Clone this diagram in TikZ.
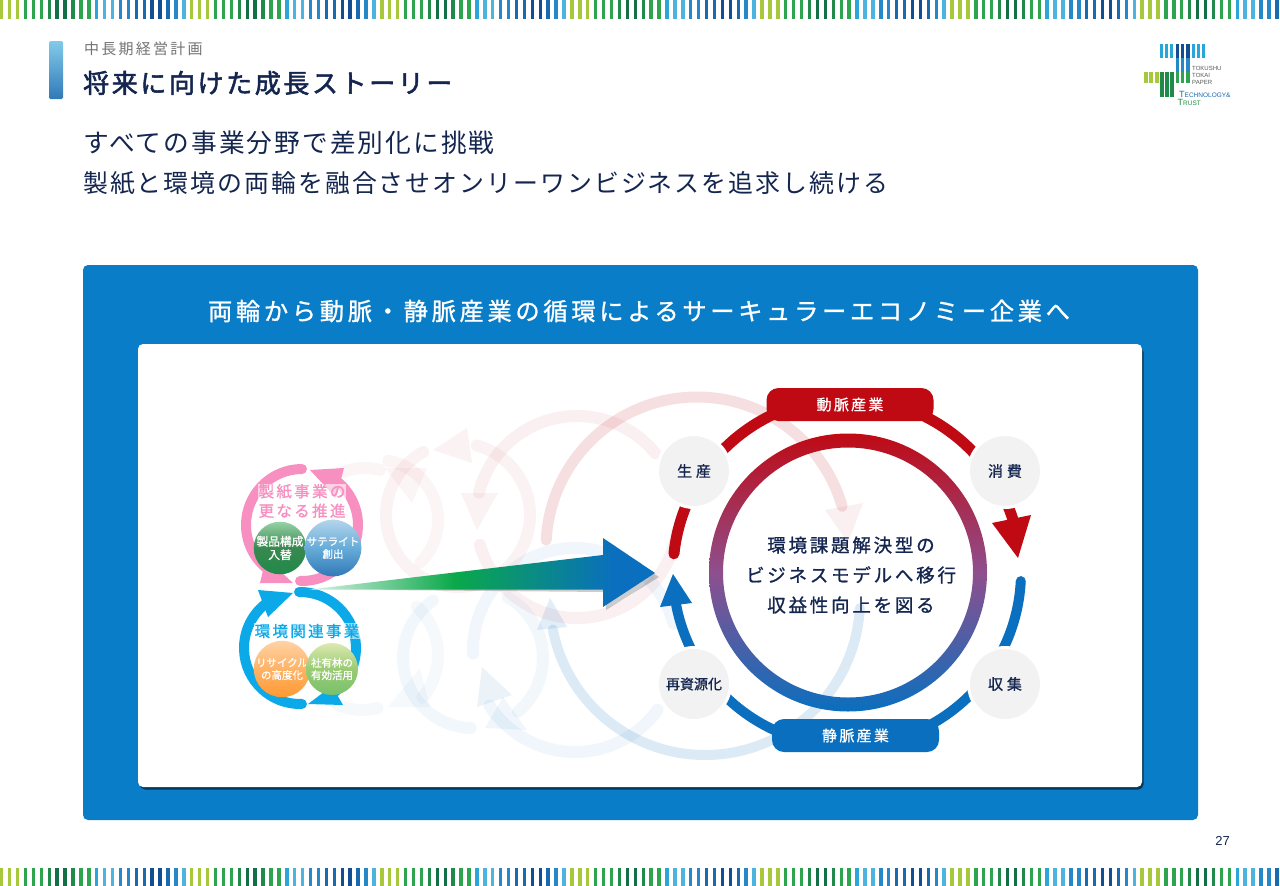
\documentclass[tikz,border=0pt]{standalone}
\usepackage{fontspec}
\setmainfont{Noto Sans CJK JP}
\newfontfamily\jpa[LetterSpace=8]{Noto Sans CJK JP}
\newfontfamily\jpb[LetterSpace=15]{Noto Sans CJK JP}
\newfontfamily\jpt[LetterSpace=10,FakeBold=2]{Noto Sans CJK JP}
\newfontfamily\jpm[LetterSpace=15,FakeBold=1]{Noto Sans CJK JP}
\newfontfamily\jpc[LetterSpace=26,FakeBold=1]{Noto Sans CJK JP}
\newfontfamily\jpk[FakeBold=1]{Noto Sans CJK JP}
\newfontfamily\latn{Liberation Sans}
\usepackage{tikz}
\usetikzlibrary{positioning}

\definecolor{stlime}{HTML}{A8C83C}
\definecolor{stgrn}{HTML}{2EA44F}
\definecolor{stgrd}{HTML}{1F8A4A}
\definecolor{stdark}{HTML}{136F45}
\definecolor{stcy}{HTML}{2AA7D8}
\definecolor{stlb}{HTML}{4DB4E0}
\definecolor{stmid}{HTML}{2688C8}
\definecolor{stblu}{HTML}{1A6AB0}
\definecolor{stnav}{HTML}{134E93}
\definecolor{navy}{HTML}{14264F}
\definecolor{panelblue}{HTML}{0A7DC9}
\definecolor{mainred}{HTML}{BF0A14}
\definecolor{mainblue}{HTML}{0A6FBE}
\definecolor{logopink}{HTML}{F78FC0}
\definecolor{logoblue}{HTML}{0BA9E8}
\definecolor{arrowgreen}{HTML}{0AA84A}
\definecolor{ringpurple}{HTML}{8E4F8E}
\pgfdeclarehorizontalshading{arrowfade}{100bp}{color(0bp)=(white); color(25bp)=(white!85!arrowgreen); color(46bp)=(arrowgreen); color(69bp)=(mainblue); color(100bp)=(mainblue)}

\tikzset{
  ghostred/.style={draw=mainred,line width=12,line cap=round,opacity=.06},
  ghostblue/.style={draw=mainblue,line width=12,line cap=round,opacity=.06},
  bigred/.style={draw=mainred,line width=11,line cap=round,opacity=.13},
  bigblue/.style={draw=mainblue,line width=10,line cap=round,opacity=.14},
  stage/.style={circle,minimum size=73,inner sep=0,fill=black!5,draw=white,line width=3,text=navy,font=\jpc\fontsize{15}{15}\selectfont},
  pill/.style={rounded corners=12,minimum width=167,minimum height=33,text=white,font=\jpm\fontsize{15}{15}\selectfont},
  ball/.style={circle,minimum size=52,inner sep=0,align=center,text=white,font=\jpk\fontsize{10.5}{12.5}\selectfont},
  logotext/.style={fill=white,fill opacity=.6,text opacity=1,inner sep=.5,align=center,font=\jpm\fontsize{15.5}{19.5}\selectfont}
}
\newcommand{\ringarc}[5]{\draw[#1] ([shift={(#4:#3)}]#2) arc[start angle=#4,end angle=#5,radius=#3];}

\begin{document}
\begin{tikzpicture}[x=1pt,y=1pt]
\useasboundingbox (0,0) rectangle (1280,-886);
\fill[white] (0,0) rectangle (1280,-886);

% stripes
\foreach \r in {0,...,6}{
  \foreach \c [count=\n from 0] in {stlime,stlime,stlime,stgrn,stgrn,stgrn,stgrd,stdark,stdark,stgrd,stgrn,stgrn,stcy,stlb,stlb,stmid,stmid,stblu,stblu,stnav,stnav,stblu,stmid,stlb}{
    \fill[\c] ({(\n+24*\r)*7.92},0) rectangle ++(3.4,-19);
    \fill[\c] ({(\n+24*\r)*7.92},-868) rectangle ++(3.4,-18);
  }
}

% header
\shade[rounded corners=1.5,top color=stlb!70,bottom color=stblu!90] (49,-41) rectangle (63,-99);
\node[anchor=west,inner sep=0,text=black!55,font=\jpb\fontsize{15}{15}\selectfont] (kicker) at (84,-49) {中長期経営計画};
\node[anchor=west,inner sep=0,text=navy,font=\jpt\fontsize{26}{26}\selectfont] (title) at (83,-83) {将来に向けた成長ストーリー};
\node[anchor=west,inner sep=0,text=navy,font=\jpa\fontsize{25.7}{25.7}\selectfont] (leadone) at (83,-143) {すべての事業分野で差別化に挑戦};
\node[anchor=west,inner sep=0,text=navy,font=\jpa\fontsize{24.9}{24.9}\selectfont] (leadtwo) at (83,-183) {製紙と環境の両輪を融合させオンリーワンビジネスを追求し続ける};

% company mark
\foreach \x in {1160,1165,1170,1192,1197,1201.5}{\fill[stcy] (\x,-44) rectangle ++(3.2,-14);}
\foreach \x in {1175.5,1180.5,1186}{
  \fill[stnav] (\x,-44) rectangle ++(3.8,-14);
  \fill[stmid] (\x,-58) rectangle ++(3.8,-14);
  \fill[stgrn] (\x,-72) rectangle ++(3.8,-11);
}
\foreach \x in {1144,1149,1155}{\fill[stlime] (\x,-72) rectangle ++(3.6,-11);}
\foreach \x in {1160,1165,1170}{\fill[stgrd] (\x,-72) rectangle ++(3.6,-25);}
\node[anchor=west,inner sep=0,align=left,text=black!65,font=\latn\fontsize{6}{7}\selectfont] (brand) at (1192,-75) {TOKUSHU\\TOKAI\\PAPER};
\node[anchor=west,inner sep=0,text=stblu,font=\latn\fontsize{6.5}{6}\selectfont] (techword) at (1179,-94) {{\fontsize{9}{8}\selectfont T}ECHNOLOGY\&};
\node[anchor=west,inner sep=0,text=stgrd,font=\latn\fontsize{6.5}{6}\selectfont] (trustword) at (1177.5,-102) {{\fontsize{9}{8}\selectfont T}RUST};

% panels
\fill[panelblue,rounded corners=5] (83,-265) rectangle (1198,-820);
\fill[black!55!panelblue,rounded corners=5] (140,-347) rectangle (1143.5,-789.5);
\fill[white,rounded corners=5] (138,-344) rectangle (1142,-787);
\node[text=white,inner sep=0,font=\jpm\fontsize{24.3}{24.3}\selectfont] (heading) at (639,-311) {両輪から動脈・静脈産業の循環によるサーキュラーエコノミー企業へ};

% ghost rings
\coordinate (ringa) at (697,-548);
\coordinate (ringb) at (577,-517);
\coordinate (ringc) at (458,-515);
\coordinate (ringd) at (378,-520);
\coordinate (ringe) at (365,-530);
\coordinate (ringf) at (705,-600);
\coordinate (ringg) at (575,-650);
\coordinate (ringh) at (473,-658);
\coordinate (ringi) at (372,-655);
\coordinate (ringj) at (362,-650);

\ringarc{bigred}{ringa}{151}{177}{16}
\fill[mainred,opacity=.06] (825,-510) -- (863,-503) -- (848,-543) -- cycle;
\ringarc{ghostred}{ringb}{101}{39}{166}
\fill[mainred,opacity=.05] (461,-493) -- (498,-493) -- (477,-530) -- cycle;
\ringarc{ghostred}{ringb}{101}{196}{352}
\ringarc{ghostred,opacity=.05}{ringc}{72}{75}{-100}
\fill[mainred,opacity=.05] (433,-450) -- (467,-428) -- (472,-463) -- cycle;
\ringarc{ghostred,opacity=.05}{ringc}{72}{119}{250}
\ringarc{ghostred,opacity=.04}{ringd}{60}{80}{-45}
\fill[mainred,opacity=.04] (385,-468) -- (427,-468) -- (412,-503) -- cycle;
\ringarc{ghostred,opacity=.04}{ringe}{62}{76}{114}

\ringarc{bigblue}{ringf}{155}{-3}{-169}
\fill[mainblue,opacity=.12] (537,-630) -- (567,-627) -- (550,-598) -- cycle;
\ringarc{ghostblue}{ringg}{102}{182}{15}
\ringarc{ghostblue}{ringg}{102}{-36}{-147}
\fill[mainblue,opacity=.08] (482,-667) -- (477,-707) -- (512,-695) -- cycle;
\ringarc{ghostblue,opacity=.05}{ringh}{70}{268}{125}
\ringarc{ghostblue,opacity=.05}{ringh}{70}{60}{-50}
\fill[mainblue,opacity=.06] (485,-728) -- (527,-730) -- (503,-697) -- cycle;
\ringarc{ghostblue,opacity=.04}{ringi}{66}{47}{-40}
\fill[mainblue,opacity=.04] (388,-707) -- (430,-707) -- (420,-668) -- cycle;
\ringarc{ghostblue,opacity=.04}{ringj}{60}{-115}{-75}

% business rings
\coordinate (paperc) at (302,-525);
\coordinate (envc) at (300,-648);
\ringarc{draw=logopink,line width=10,line cap=round}{paperc}{56}{90}{238}
\fill[logopink] (260,-583) -- (293,-583) -- (266,-558) -- cycle;
\ringarc{draw=logopink,line width=10,line cap=round}{paperc}{56}{-92}{60}
\fill[logopink] (310,-470) -- (344,-468) -- (336,-498) -- cycle;
\ringarc{draw=logoblue,line width=10,line cap=round}{envc}{56}{91}{-58}
\fill[logoblue] (308,-704) -- (343,-705) -- (332,-686) -- cycle;
\ringarc{draw=logoblue,line width=10,line cap=round}{envc}{56}{-88}{-235}
\fill[logoblue] (258,-590) -- (293,-593) -- (268,-617) -- cycle;

\node[logotext,text=logopink] (papertitle) at (302,-501) {製紙事業の\\更なる推進};
\node[logotext,text=logoblue] (envtitle) at (307,-631) {環境関連事業};
\node[ball,top color=stgrn!50,bottom color=stgrd,middle color=stgrn!75!black!90,font=\jpk\fontsize{11.7}{13.5}\selectfont] (prodmix) at (280,-548) {製品構成\\入替};
\node[ball,top color=stmid!35,bottom color=stblu!90,middle color=stmid!70] (satellite) at (333,-548) {サテライト\\創出};
\node[ball,top color=orange!35,bottom color=orange!80,middle color=orange!60] (recycle) at (282,-669) {リサイクル\\の高度化};
\node[ball,top color=stlime!40,bottom color=stlime!35!stgrn!80,middle color=stlime!60!stgrn!75] (forest) at (332,-669) {社有林の\\有効活用};

% big arrow
\fill[black,opacity=.2] (380,-590) -- (606,-592) -- (606,-610) -- (659,-577) -- (606,-541) -- (606,-558) -- cycle;
\shade[shading=arrowfade] (310,-589.5) -- (603,-555) -- (603,-538) -- (655,-573) -- (603,-607) -- (603,-589.5) -- cycle;

% main ring
\coordinate (mainc) at (847,-572);
\ringarc{draw=mainred,line width=11,line cap=round}{mainc}{174}{174}{15}
\fill[mainred] (992,-523) -- (1031,-515) -- (1018,-558) -- cycle;
\ringarc{draw=mainblue,line width=10,line cap=round}{mainc}{174}{-3}{-169}
\fill[mainblue] (660,-607) -- (692,-603) -- (673,-574) -- cycle;

\shade[even odd rule,top color=mainred,bottom color=mainblue,middle color=ringpurple] (848,-572.5) circle (139) (848,-572.5) circle (125);

\node[pill,fill=mainred] (artery) at (850,-404.5) {動脈産業};
\node[pill,fill=mainblue] (vein) at (855.5,-735.5) {静脈産業};
\node[stage] (make) at (694,-471) {生産};
\node[stage] (use) at (1005,-471) {消費};
\node[stage] (collect) at (1005,-684) {収集};
\node[stage,font=\jpk\fontsize{14}{14}\selectfont] (renew) at (694,-684) {再資源化};
\node[align=center,text=navy,inner sep=0,font=\jpm\fontsize{18.5}{30}\selectfont] (goal) at (851,-575) {環境課題解決型の\\ビジネスモデルへ移行\\収益性向上を図る};

\node[text=navy,inner sep=0,font=\latn\fontsize{13}{13}\selectfont] (pageno) at (1222.5,-841) {27};
\end{tikzpicture}
\end{document}
